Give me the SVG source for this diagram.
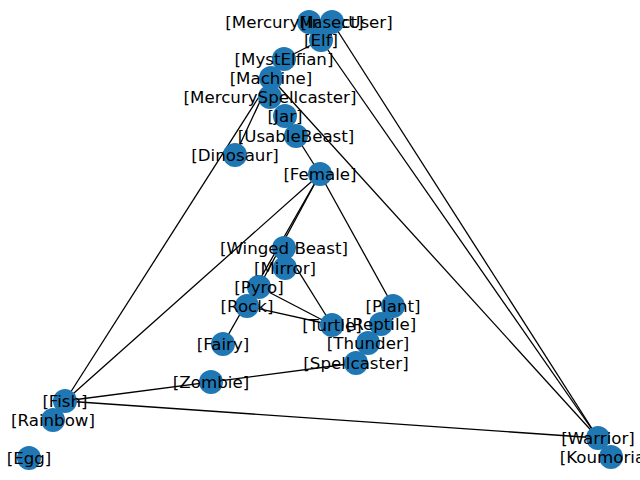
<svg xmlns="http://www.w3.org/2000/svg" width="640" height="480" viewBox="0 0 640 480">
<style>
.e{stroke:#000;stroke-width:1.3;fill:none}
.n circle{fill:#1f77b4}
.n text{font-family:"DejaVu Sans",sans-serif;font-size:16.67px;fill:#000;text-anchor:middle}
</style>
<rect width="640" height="480" fill="#fff"/>
<g id="edges" class="e">
<line x1="332" y1="22" x2="598" y2="438"/>
<line x1="321" y1="40" x2="598" y2="438"/>
<line x1="284" y1="59" x2="321" y2="40"/>
<line x1="271" y1="78" x2="598" y2="438"/>
<line x1="271" y1="78" x2="65" y2="401"/>
<line x1="271" y1="78" x2="235" y2="155"/>
<line x1="296" y1="136" x2="320" y2="174"/>
<line x1="320" y1="174" x2="65" y2="401"/>
<line x1="320" y1="174" x2="393" y2="306"/>
<line x1="320" y1="174" x2="259" y2="287"/>
<line x1="320" y1="174" x2="223" y2="344"/>
<line x1="284" y1="248" x2="332" y2="325"/>
<line x1="259" y1="287" x2="332" y2="325"/>
<line x1="247" y1="306" x2="332" y2="325"/>
<line x1="65" y1="401" x2="356" y2="363"/>
<line x1="65" y1="401" x2="598" y2="438"/>
</g>
<g id="n-MercuryMagicUser" class="n"><circle cx="309" cy="22" r="12"/><text x="309" y="28">[MercuryMagicUser]</text></g>
<g id="n-Insect" class="n"><circle cx="332" cy="22" r="12"/><text x="332" y="28">[Insect]</text></g>
<g id="n-Elf" class="n"><circle cx="321" cy="40" r="12"/><text x="321" y="46">[Elf]</text></g>
<g id="n-MystElfian" class="n"><circle cx="284" cy="59" r="12"/><text x="284" y="65">[MystElfian]</text></g>
<g id="n-Machine" class="n"><circle cx="271" cy="78" r="12"/><text x="271" y="84">[Machine]</text></g>
<g id="n-MercurySpellcaster" class="n"><circle cx="270" cy="97" r="12"/><text x="270" y="103">[MercurySpellcaster]</text></g>
<g id="n-Jar" class="n"><circle cx="285" cy="116" r="12"/><text x="285" y="122">[Jar]</text></g>
<g id="n-UsableBeast" class="n"><circle cx="296" cy="136" r="12"/><text x="296" y="142">[UsableBeast]</text></g>
<g id="n-Dinosaur" class="n"><circle cx="235" cy="155" r="12"/><text x="235" y="161">[Dinosaur]</text></g>
<g id="n-Female" class="n"><circle cx="320" cy="174" r="12"/><text x="320" y="180">[Female]</text></g>
<g id="n-WingedBeast" class="n"><circle cx="284" cy="248" r="12"/><text x="284" y="254">[Winged Beast]</text></g>
<g id="n-Mirror" class="n"><circle cx="285" cy="268" r="12"/><text x="285" y="274">[Mirror]</text></g>
<g id="n-Pyro" class="n"><circle cx="259" cy="287" r="12"/><text x="259" y="293">[Pyro]</text></g>
<g id="n-Rock" class="n"><circle cx="247" cy="306" r="12"/><text x="247" y="312">[Rock]</text></g>
<g id="n-Plant" class="n"><circle cx="393" cy="306" r="12"/><text x="393" y="312">[Plant]</text></g>
<g id="n-Reptile" class="n"><circle cx="381" cy="324" r="12"/><text x="381" y="330">[Reptile]</text></g>
<g id="n-Turtle" class="n"><circle cx="332" cy="325" r="12"/><text x="332" y="331">[Turtle]</text></g>
<g id="n-Thunder" class="n"><circle cx="368" cy="343" r="12"/><text x="368" y="349">[Thunder]</text></g>
<g id="n-Fairy" class="n"><circle cx="223" cy="344" r="12"/><text x="223" y="350">[Fairy]</text></g>
<g id="n-Spellcaster" class="n"><circle cx="356" cy="363" r="12"/><text x="356" y="369">[Spellcaster]</text></g>
<g id="n-Zombie" class="n"><circle cx="211" cy="382" r="12"/><text x="211" y="388">[Zombie]</text></g>
<g id="n-Fish" class="n"><circle cx="65" cy="401" r="12"/><text x="65" y="407">[Fish]</text></g>
<g id="n-Rainbow" class="n"><circle cx="53" cy="420" r="12"/><text x="53" y="426">[Rainbow]</text></g>
<g id="n-Egg" class="n"><circle cx="29" cy="458" r="12"/><text x="29" y="464">[Egg]</text></g>
<g id="n-Warrior" class="n"><circle cx="598" cy="438" r="12"/><text x="598" y="444">[Warrior]</text></g>
<g id="n-Koumorian" class="n"><circle cx="611" cy="457" r="12"/><text x="611" y="463">[Koumorian]</text></g>
</svg>
